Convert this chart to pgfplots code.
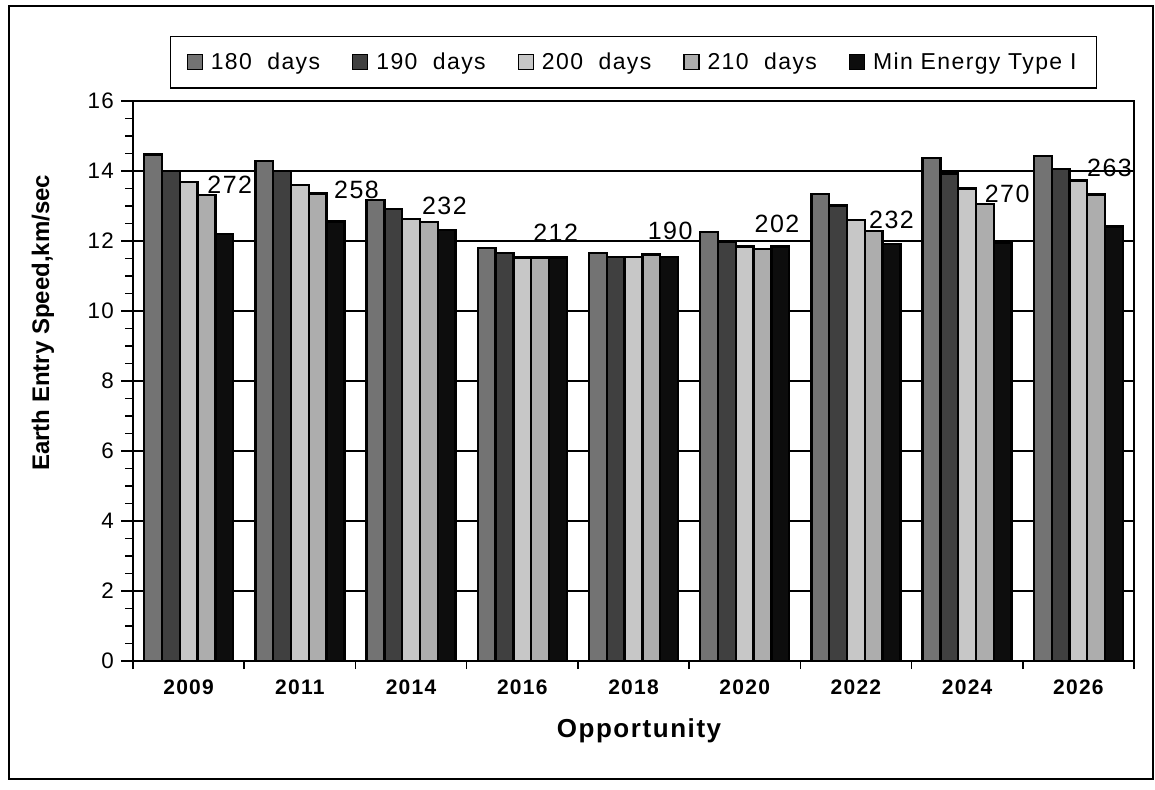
\documentclass[border=0pt]{standalone}
\usepackage{fontspec}
\setmainfont{Liberation Sans}
\newfontfamily\lsfont[LetterSpace=6]{Liberation Sans}
\usepackage{pgfplots}
\pgfplotsset{compat=1.18}

\definecolor{c180}{gray}{0.45}
\definecolor{c190}{gray}{0.25}
\definecolor{c200}{gray}{0.78}
\definecolor{c210}{gray}{0.68}
\definecolor{cmin}{gray}{0.05}

\begin{document}
\begin{tikzpicture}
\useasboundingbox (0,0) rectangle (577.5pt,394.5pt);
\draw[line width=1pt] (4.5pt,5pt) rectangle (576.5pt,391.5pt);
\begin{axis}[
    at={(66.5pt,64pt)}, anchor=south west,
    width=500.5pt, height=280pt, scale only axis,
    ybar=0pt, bar width=0.16,
    xmin=-0.5, xmax=8.5, ymin=0, ymax=16,
    xtick={0,...,8},
    xticklabels={2009,2011,2014,2016,2018,2020,2022,2024,2026},
    minor xtick={-0.5,0.5,...,8.5},
    major x tick style={draw=none},
    ytick={0,2,...,16}, minor y tick num=3,
    tick pos=left,
    tick align=outside,
    major tick length=6pt, minor tick length=4pt,
    tick style={black, line width=0.8pt},
    ymajorgrids,
    grid style={black, line width=0.8pt},
    axis line style={line width=1pt},
    /pgf/number format/assume math mode=true,
    xticklabel style={font=\lsfont\bfseries\fontsize{10.5}{12}\selectfont},
    yticklabel style={font=\lsfont\fontsize{11.2}{13}\selectfont},
    xlabel={Opportunity},
    xlabel style={at={(axis description cs:0.5055,-0.125)}, anchor=center,
        font=\lsfont\bfseries\fontsize{13}{15}\selectfont},
    ylabel={Earth Entry Speed,km/sec},
    ylabel style={at={(axis description cs:-0.09,0.604)}, anchor=center,
        font=\bfseries\fontsize{12}{14}\selectfont},
    legend columns=5,
    legend style={at={(0.5,1.069)}, anchor=center, draw=black, line width=0.8pt,
        font=\lsfont\fontsize{11.5}{13}\selectfont,
        /tikz/every odd column/.append style={column sep=2pt},
        /tikz/every even column/.append style={column sep=14pt},
        inner xsep=8pt, inner ysep=6pt},
    legend image code/.code={\draw[#1, line width=0.6pt] (0pt,-3.75pt) rectangle (7.5pt,3.75pt);},
    every axis plot/.append style={draw=black, line width=1.2pt},
    clip=false,
]
\addplot[fill=c180] coordinates {(0,14.47) (1,14.28) (2,13.17) (3,11.80) (4,11.65) (5,12.25) (6,13.35) (7,14.38) (8,14.43)};
\addplot[fill=c190] coordinates {(0,14.00) (1,14.00) (2,12.92) (3,11.66) (4,11.54) (5,11.97) (6,13.01) (7,13.93) (8,14.06)};
\addplot[fill=c200] coordinates {(0,13.69) (1,13.60) (2,12.63) (3,11.53) (4,11.54) (5,11.84) (6,12.60) (7,13.50) (8,13.73)};
\addplot[fill=c210] coordinates {(0,13.32) (1,13.36) (2,12.55) (3,11.53) (4,11.62) (5,11.77) (6,12.28) (7,13.06) (8,13.33)};
\addplot[fill=cmin] coordinates {(0,12.20) (1,12.56) (2,12.32) (3,11.53) (4,11.54) (5,11.84) (6,11.92) (7,11.94) (8,12.42)};
\legend{180\ \ days, 190\ \ days, 200\ \ days, 210\ \ days, Min Energy Type I}
\begin{scope}[every node/.style={font=\lsfont\fontsize{12.5}{14}\selectfont}]
\node at (axis cs:0.37,13.61) {272};
\node at (axis cs:1.51,13.46) {258};
\node at (axis cs:2.30,12.99) {232};
\node at (axis cs:3.30,12.23) {212};
\node at (axis cs:4.33,12.30) {190};
\node at (axis cs:5.29,12.48) {202};
\node at (axis cs:6.32,12.59) {232};
\node at (axis cs:7.36,13.34) {270};
\node at (axis cs:8.28,14.10) {263};
\end{scope}
\end{axis}
\end{tikzpicture}
\end{document}
